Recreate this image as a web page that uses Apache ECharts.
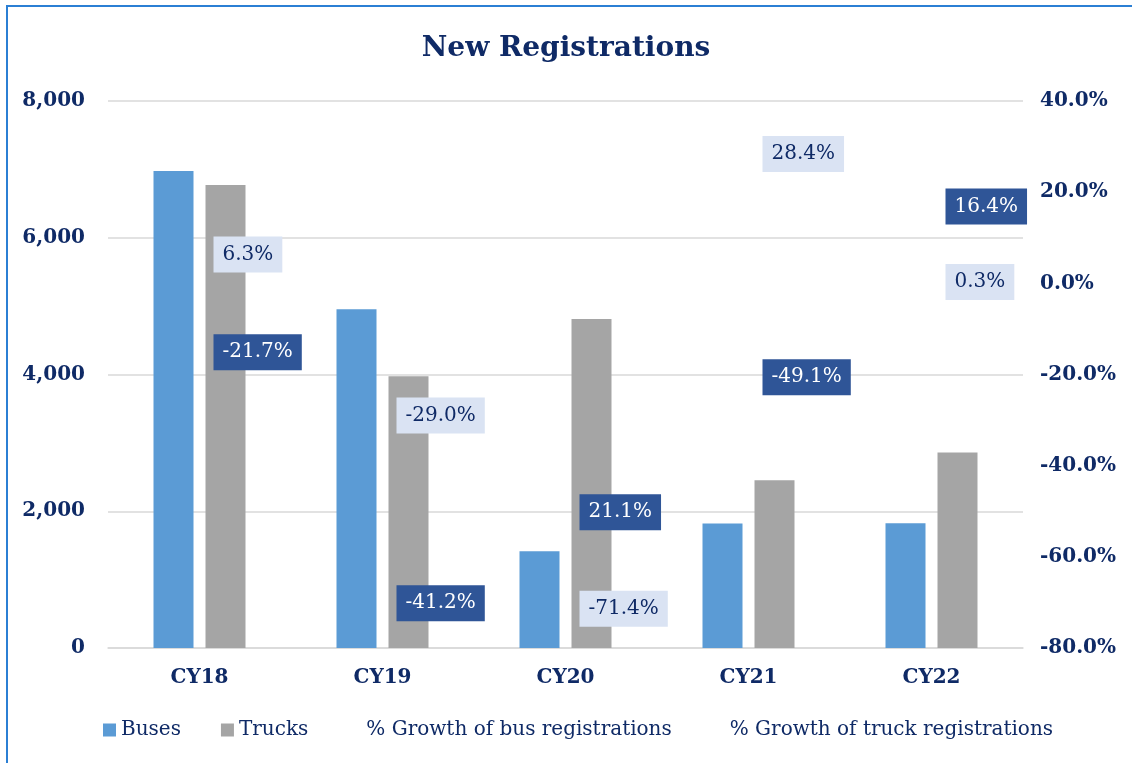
<!DOCTYPE html>
<html>
<head>
<meta charset="utf-8">
<title>New Registrations</title>
<script src="https://cdn.jsdelivr.net/npm/echarts@6/dist/echarts.min.js"></script>
<style>
  html, body { margin: 0; padding: 0; background: #fff; }
  #frame {
    position: absolute; left: 6px; top: 5px; width: 1126px; height: 758px;
    border-top: 2px solid #2b7fd4; border-left: 2px solid #2b7fd4;
    box-sizing: border-box;
  }
  #chart { position: absolute; left: 0; top: 0; width: 1132px; height: 763px; }
</style>
</head>
<body>
<div id="frame"></div>
<div id="chart"></div>
<script>
// data
const years = ['CY18', 'CY19', 'CY20', 'CY21', 'CY22'];
const buses = [6975, 4955, 1415, 1820, 1825];
const trucks = [6770, 3975, 4810, 2455, 2860];
const busGrowth = [6.3, -29.0, -71.4, 28.4, 0.3];
const truckGrowth = [-21.7, -41.2, 21.1, -49.1, 16.4];

const navy = '#0f2a66';
const serif = '"DejaVu Serif", serif';

// truck growth labels were moved by hand in the original, shift them the same way
const truckLabelShift = [-30, 132, 325, -130, -2];

const chart = echarts.init(document.getElementById('chart'));

const axisText = { color: navy, fontFamily: serif, fontWeight: 'bold', fontSize: 20 };

const growthLabel = (bg, fg) => ({
  show: true,
  position: 'right',
  distance: 14,
  formatter: (p) => p.value.toFixed(1) + '%',
  color: fg,
  fontFamily: serif,
  fontSize: 20,
  backgroundColor: bg,
  padding: [8, 9, 8, 9]
});

const option = {
  animation: false,
  title: {
    text: 'New Registrations',
    left: 'center',
    top: 30,
    textStyle: { color: navy, fontFamily: serif, fontWeight: 'bold', fontSize: 28 }
  },
  grid: { left: 108, right: 109, top: 101, bottom: 115 },
  legend: {
    bottom: 18,
    left: 98,
    itemWidth: 13,
    itemHeight: 13,
    itemGap: 40,
    textStyle: { color: navy, fontFamily: serif, fontSize: 20 },
    data: [
      { name: 'Buses', icon: 'rect' },
      { name: 'Trucks', icon: 'rect' },
      { name: '% Growth of bus registrations', icon: 'rect', itemStyle: { opacity: 0 } },
      { name: '% Growth of truck registrations', icon: 'rect', itemStyle: { opacity: 0 } }
    ]
  },
  xAxis: {
    type: 'category',
    data: years,
    axisTick: { show: false },
    axisLine: { lineStyle: { color: '#d9d9d9', width: 1.5 } },
    axisLabel: Object.assign({ margin: 20 }, axisText)
  },
  yAxis: [
    {
      type: 'value',
      min: 0,
      max: 8000,
      interval: 2000,
      axisLabel: Object.assign({
        margin: 23,
        formatter: (v) => v.toLocaleString('en-US')
      }, axisText),
      splitLine: { lineStyle: { color: '#d9d9d9', width: 1.5 } }
    },
    {
      type: 'value',
      min: -80,
      max: 40,
      interval: 20,
      axisLabel: Object.assign({
        margin: 17,
        formatter: (v) => v.toFixed(1) + '%'
      }, axisText),
      splitLine: { show: false }
    }
  ],
  series: [
    {
      name: 'Buses',
      type: 'bar',
      data: buses,
      barWidth: 40,
      barGap: '30%',
      itemStyle: { color: '#5b9bd5' }
    },
    {
      name: 'Trucks',
      type: 'bar',
      data: trucks,
      barWidth: 40,
      itemStyle: { color: '#a5a5a5' }
    },
    {
      name: '% Growth of bus registrations',
      type: 'line',
      yAxisIndex: 1,
      data: busGrowth,
      symbol: 'circle',
      symbolSize: 0,
      showSymbol: true,
      lineStyle: { opacity: 0 },
      itemStyle: { color: '#dae3f3' },
      z: 5,
      label: growthLabel('#dae3f3', navy)
    },
    {
      name: '% Growth of truck registrations',
      type: 'line',
      yAxisIndex: 1,
      symbol: 'circle',
      symbolSize: 0,
      showSymbol: true,
      lineStyle: { opacity: 0 },
      itemStyle: { color: '#2f5597' },
      z: 5,
      data: truckGrowth.map((v, i) => ({
        value: v,
        label: { offset: [0, truckLabelShift[i]] }
      })),
      label: growthLabel('#2f5597', '#ffffff')
    }
  ]
};

chart.setOption(option);
window.addEventListener('resize', () => chart.resize());
</script>
</body>
</html>
